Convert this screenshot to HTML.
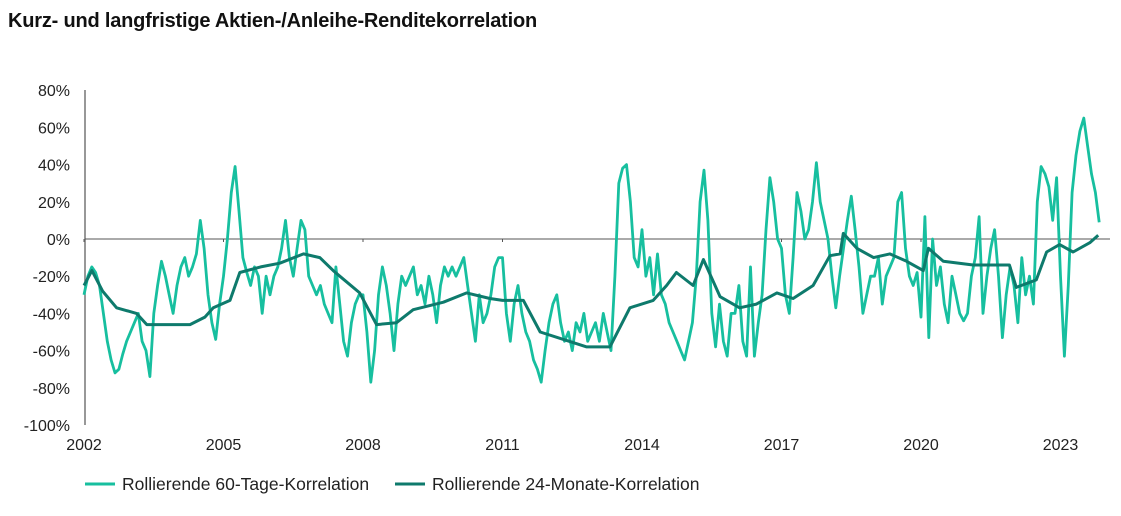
<!DOCTYPE html>
<html><head><meta charset="utf-8">
<style>
body{margin:0;background:#fff;width:1121px;height:516px;overflow:hidden;font-family:"Liberation Sans",sans-serif}
.title{position:absolute;left:8px;top:10px;font-size:20px;font-weight:bold;color:#111;letter-spacing:-0.2px}
svg{position:absolute;left:0;top:0}
text{font-family:"Liberation Sans",sans-serif;fill:#222}
</style></head><body>
<div class="title">Kurz- und langfristige Aktien-/Anleihe-Renditekorrelation</div>
<svg id="chart" width="1121" height="516"></svg>
<script>
const yTicks=[80,60,40,20,0,-20,-40,-60,-80,-100];
const xTickYears=[2002,2005,2008,2011,2014,2017,2020,2023];
const shortStartYear=2002;
const shortValues=[
-30,-20,-15,-18,-25,-40,-55,-65,-72,-70,-62,-55,
-50,-45,-40,-55,-60,-74,-40,-25,-12,-20,-30,-40,
-25,-15,-10,-20,-15,-8,10,-5,-30,-45,-54,-35,
-20,0,25,39,15,-10,-18,-25,-15,-20,-40,-20,
-30,-20,-15,-5,10,-10,-20,-5,10,5,-20,-25,
-30,-25,-35,-40,-45,-15,-35,-55,-63,-45,-35,-30,
-30,-50,-77,-60,-30,-15,-25,-40,-60,-35,-20,-25,
-20,-15,-30,-25,-35,-20,-30,-45,-25,-15,-20,-15,
-20,-15,-10,-25,-40,-55,-30,-45,-40,-30,-15,-10,
-10,-40,-55,-35,-25,-40,-50,-55,-65,-70,-77,-60,
-45,-35,-30,-45,-55,-50,-60,-45,-50,-40,-55,-50,
-45,-55,-40,-50,-60,-20,30,38,40,20,-10,-15,
5,-20,-10,-30,-8,-30,-35,-45,-50,-55,-60,-65,
-55,-45,-20,20,37,10,-40,-58,-35,-55,-63,-40,
-40,-25,-55,-63,-15,-63,-45,-30,5,33,20,0,
-5,-30,-40,-10,25,15,0,5,20,41,20,10,
0,-20,-37,-20,-5,10,23,5,-15,-40,-30,-20,
-20,-10,-35,-20,-15,-10,20,25,-5,-20,-25,-18,
-42,12,-53,0,-25,-15,-35,-45,-20,-30,-40,-44,
-40,-20,-10,12,-40,-20,-5,5,-20,-53,-30,-15,
-25,-45,-10,-30,-20,-35,20,39,35,28,10,33,
-20,-63,-25,25,45,58,65,50,35,25,9];
const longDates=[2002.0,2002.17,2002.4,2002.7,2003.13,2003.35,2004.28,2004.6,2004.78,2005.14,2005.35,2005.8,2006.21,2006.72,2007.07,2007.36,2007.5,2007.93,2008.29,2008.72,2009.08,2009.73,2010.23,2010.73,2011.0,2011.45,2011.81,2012.31,2012.81,2013.31,2013.74,2014.24,2014.53,2014.74,2015.1,2015.32,2015.68,2016.1,2016.46,2016.9,2017.25,2017.68,2018.04,2018.26,2018.33,2018.62,2018.98,2019.33,2019.69,2020.05,2020.16,2020.48,2021.12,2021.9,2022.05,2022.48,2022.7,2022.98,2023.27,2023.63,2023.81];
const longValues=[-25,-17,-28,-37,-40,-46,-46,-42,-37,-33,-18,-15,-13,-8,-10,-17,-20,-29,-46,-45,-38,-34,-29,-32,-33,-33,-50,-54,-58,-58,-37,-33,-25,-18,-25,-11,-31,-37,-35,-29,-32,-25,-9,-8,3,-5,-10,-8,-12,-17,-5,-12,-14,-14,-26,-22,-7,-3,-7,-2,2];

const NS="http://www.w3.org/2000/svg";
const svg=document.getElementById('chart');
const X=y=>84+(y-2002)*46.5;
const Y=v=>239-v*1.86;
function mk(t,a){const e=document.createElementNS(NS,t);for(const k in a)e.setAttribute(k,a[k]);svg.appendChild(e);return e;}
yTicks.forEach(v=>{
  const t=mk('text',{x:70,y:Y(v)+6,'text-anchor':'end','font-size':16});
  t.textContent=v+'%';
  
  
});
const ya=mk('line',{x1:85,x2:85,y1:90,y2:425,stroke:'#777','stroke-width':1.5});


const za=mk('line',{x1:85,x2:1110,y1:Y(0),y2:Y(0),stroke:'#555','stroke-width':1});


xTickYears.forEach(yr=>{
  const tk=mk('line',{x1:X(yr),x2:X(yr),y1:Y(0),y2:Y(0)+3,stroke:'#555'});
  
  
  const t=mk('text',{x:X(yr),y:450,'text-anchor':'middle','font-size':16});
  t.textContent=yr;
  
  
});
const sp=shortValues.map((v,i)=>X(shortStartYear+i/12).toFixed(1)+','+Y(v).toFixed(1)).join(' ');
const l1=mk('polyline',{points:sp,fill:'none',stroke:'#17bf9f','stroke-width':2.8,'stroke-linejoin':'round'});


const lp=longValues.map((v,i)=>X(longDates[i]).toFixed(1)+','+Y(v).toFixed(1)).join(' ');
const l2=mk('polyline',{points:lp,fill:'none',stroke:'#0e7a6c','stroke-width':3,'stroke-linejoin':'round'});


const legs=[[85,'#17bf9f','Rollierende 60-Tage-Korrelation','legend-entry-60-day'],[395,'#0e7a6c','Rollierende 24-Monate-Korrelation','legend-entry-24-month']];
legs.forEach(([x,c,s,n])=>{
  const g=mk('g',{});
  
  
  const ln=document.createElementNS(NS,'line');
  ln.setAttribute('x1',x);ln.setAttribute('x2',x+30);ln.setAttribute('y1',484);ln.setAttribute('y2',484);
  ln.setAttribute('stroke',c);ln.setAttribute('stroke-width',3);g.appendChild(ln);
  const t=document.createElementNS(NS,'text');
  t.setAttribute('x',x+37);t.setAttribute('y',490);t.setAttribute('font-size',17.5);t.textContent=s;g.appendChild(t);
});
</script>
</body></html>
